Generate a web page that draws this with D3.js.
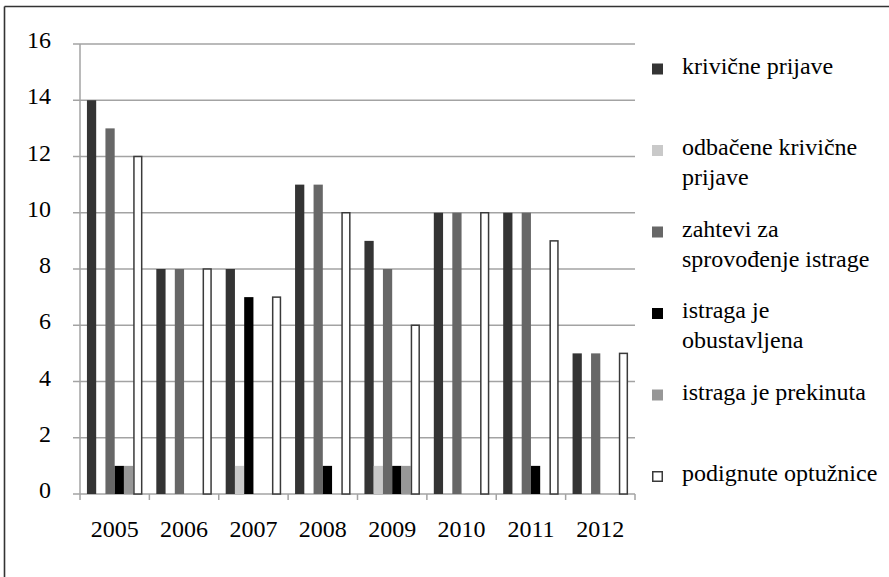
<!DOCTYPE html>
<html>
<head>
<meta charset="utf-8">
<script src="https://cdn.jsdelivr.net/npm/d3@7"></script>
</head>
<body style="margin:0; font-family: serif;">
<svg id="chart" width="889" height="577"></svg>
<script>
// Years on the category axis
const years = ["2005", "2006", "2007", "2008", "2009", "2010", "2011", "2012"];

// Series names (legend labels, with manual line breaks)
const seriesKeys = ["krivicne", "odbacene", "zahtevi", "obustavljena", "prekinuta", "optuznice"];
const seriesLabels = [
  ["krivične prijave"],
  ["odbačene krivične", "prijave"],
  ["zahtevi za", "sprovođenje istrage"],
  ["istraga je", "obustavljena"],
  ["istraga je prekinuta"],
  ["podignute optužnice"]
];

// Values per series, one per year
const krivicnePrijave      = [14, 8, 8, 11, 9, 10, 10, 5];
const odbaceneKrivicne     = [0, 0, 1, 0, 1, 0, 0, 0];
const zahteviZaIstragu     = [13, 8, 7, 11, 8, 10, 10, 5];
const istragaObustavljena  = [1, 0, 0, 1, 1, 0, 1, 0];
const istragaPrekinuta     = [1, 0, 0, 0, 1, 0, 0, 0];
const podignuteOptuznice   = [12, 8, 7, 10, 6, 10, 9, 5];

// Y axis ticks
const yTicks = [0, 2, 4, 6, 8, 10, 12, 14, 16];

const seriesValues = [krivicnePrijave, odbaceneKrivicne, zahteviZaIstragu,
                      istragaObustavljena, istragaPrekinuta, podignuteOptuznice];

// Styling
const FONT = "Times New Roman";
const fills   = ["#343434", "#c9c9c9", "#676767", "#000000", "#979797", "#ffffff"];
const strokes = [null, null, null, null, null, "#3a3a3a"];
// single point drawn in a different colour (2007 request for investigation)
const pointFill = { "2007|zahtevi": "#000000" };

const svg = d3.select("#chart");

// outer frame (top and left edges)
svg.append("line").attr("x1", 4.5).attr("x2", 889).attr("y1", 6.5).attr("y2", 6.5)
  .attr("stroke", "#333").attr("stroke-width", 1.6);
svg.append("line").attr("x1", 4.5).attr("x2", 4.5).attr("y1", 6.5).attr("y2", 577)
  .attr("stroke", "#333").attr("stroke-width", 1.6);

const plot = { left: 80, right: 635, top: 44, bottom: 494 };

const y = d3.scaleLinear().domain([0, 16]).range([plot.bottom, plot.top]);
const x0 = d3.scaleBand().domain(years).range([plot.left, plot.right]).padding(0);
const x1 = d3.scaleBand().domain(seriesKeys).range([0, x0.bandwidth()])
  .paddingInner(0).paddingOuter(0.75);

const gridColor = "#a3a3a3";

// horizontal gridlines with small ticks to the left of the axis
svg.append("g").selectAll("line").data(yTicks).join("line")
  .attr("x1", plot.left - 7).attr("x2", plot.right)
  .attr("y1", d => y(d)).attr("y2", d => y(d))
  .attr("stroke", gridColor).attr("stroke-width", 1.5);

// y-axis labels
yTicks.forEach(d => {
  svg.append("text")
    .attr("x", 51).attr("y", y(d) + 4)
    .attr("text-anchor", "end")
    .attr("font-family", FONT)
    .attr("font-size", 24)
    .text(String(d));
});

// vertical axis line
svg.append("line").attr("x1", plot.left).attr("x2", plot.left)
  .attr("y1", plot.top).attr("y2", plot.bottom + 6)
  .attr("stroke", gridColor).attr("stroke-width", 1.5);

// category tick marks at band boundaries
const boundaries = years.map(d => x0(d)).concat([plot.right]);
svg.append("g").selectAll("line").data(boundaries.slice(1)).join("line")
  .attr("x1", d => d).attr("x2", d => d)
  .attr("y1", plot.bottom).attr("y2", plot.bottom + 6)
  .attr("stroke", gridColor).attr("stroke-width", 1.5);

// year labels
years.forEach(d => {
  svg.append("text")
    .attr("x", x0(d) + x0.bandwidth() / 2).attr("y", 537)
    .attr("text-anchor", "middle")
    .attr("font-family", FONT)
    .attr("font-size", 24)
    .text(d);
});

// bars
const barData = [];
years.forEach((yr, i) => {
  seriesKeys.forEach((k, s) => {
    const v = seriesValues[s][i];
    if (v > 0) barData.push({ year: yr, key: k, s, v });
  });
});

svg.append("g").selectAll("rect").data(barData).join("rect")
  .attr("x", d => x0(d.year) + x1(d.key) + (strokes[d.s] ? 0.75 : 0))
  .attr("width", d => x1.bandwidth() - (strokes[d.s] ? 1.5 : 0))
  .attr("y", d => y(d.v))
  .attr("height", d => y(0) - y(d.v))
  .attr("fill", d => pointFill[d.year + "|" + d.key] || fills[d.s])
  .attr("stroke", d => strokes[d.s] || "none")
  .attr("stroke-width", 1.5);

// legend: one text element per line
const legendX = 652, legendTextX = 682, legendTop = 73.5, legendStep = 81.5, lineH = 30;
seriesKeys.forEach((k, s) => {
  const base = legendTop + s * legendStep;
  svg.append("rect")
    .attr("x", legendX + (strokes[s] ? 0.75 : 0))
    .attr("y", base - 10 + (strokes[s] ? 0.75 : 0))
    .attr("width", 11 - (strokes[s] ? 1.5 : 0))
    .attr("height", 11 - (strokes[s] ? 1.5 : 0))
    .attr("fill", fills[s])
    .attr("stroke", strokes[s] || "none")
    .attr("stroke-width", 1.5);
  seriesLabels[s].forEach((line, j) => {
    svg.append("text")
      .attr("x", legendTextX).attr("y", base + j * lineH)
      .attr("font-family", FONT)
      .attr("font-size", 24)
      .text(line);
  });
});
</script>
</body>
</html>
